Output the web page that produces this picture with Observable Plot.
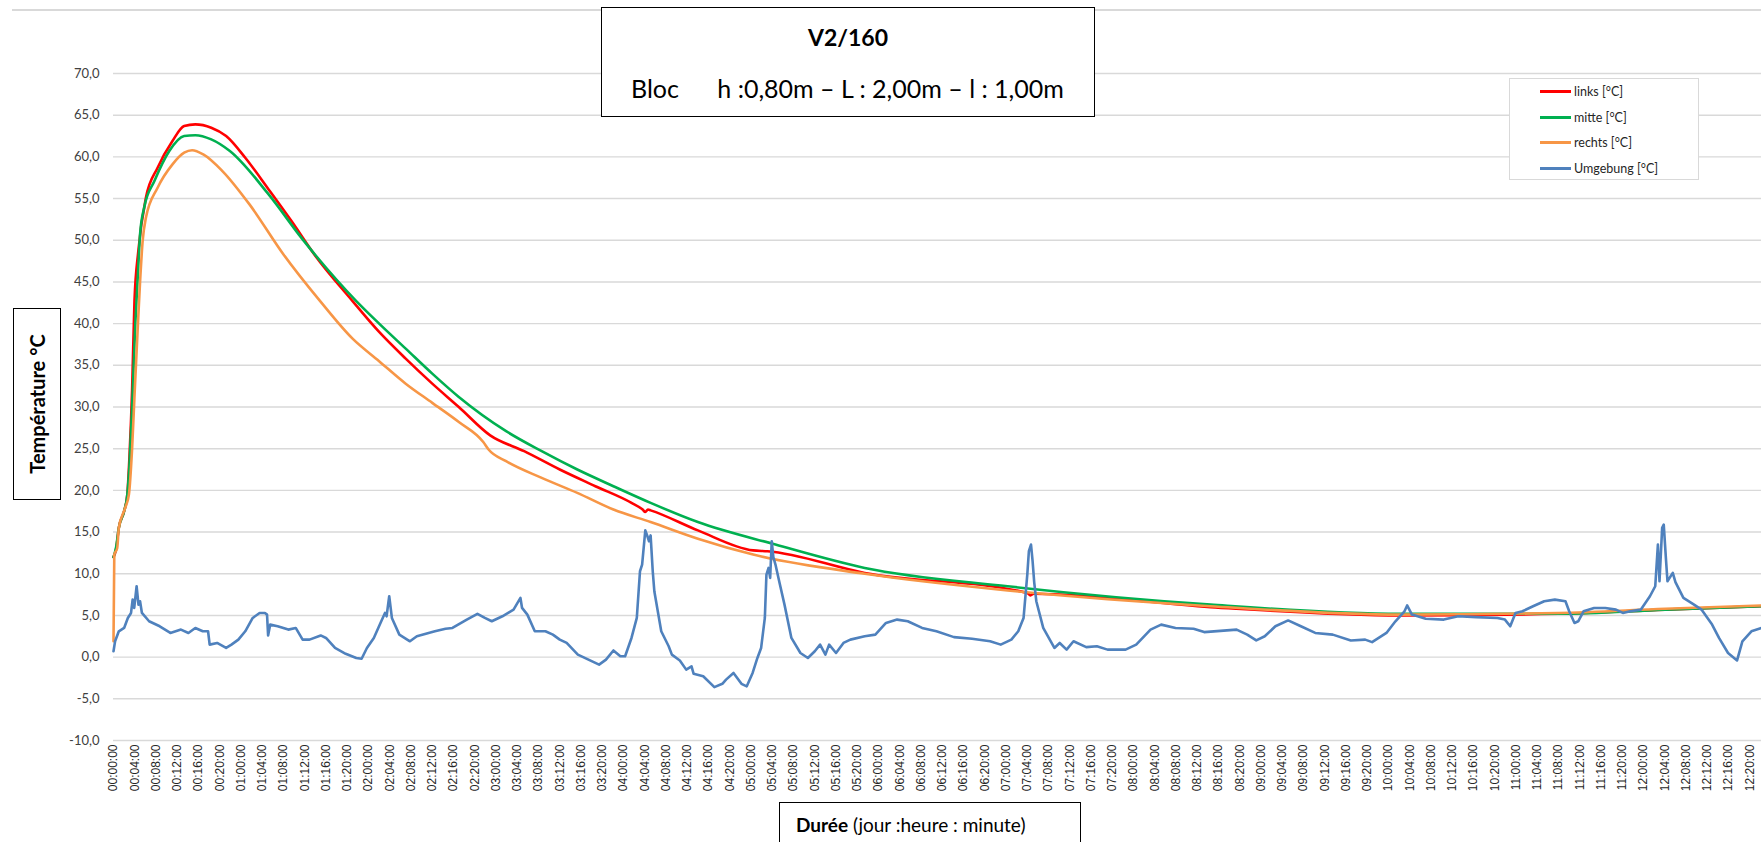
<!DOCTYPE html>
<html>
<head>
<meta charset="utf-8">
<script src="https://cdn.jsdelivr.net/npm/d3@7"></script>
<script src="https://cdn.jsdelivr.net/npm/@observablehq/plot@0.6"></script>
<style>
  html, body { margin: 0; padding: 0; background: #fff; overflow: hidden; }
  #wrap { position: relative; width: 1761px; height: 842px; overflow: hidden; font-family: Lato, "Open Sans", sans-serif; }
  #chart { position: absolute; left: 0; top: 0; }
  .box { position: absolute; border: 1.5px solid #000; background: #fff; box-sizing: border-box; }
  #topline { position: absolute; left: 12px; right: 0; top: 9px; height: 2px; background: #d9d9d9; }
  #title { left: 601px; top: 7px; width: 494px; height: 110px; }
  #title .t1 { position: absolute; left: 0; right: 0; top: 15px; text-align: center; font-weight: bold; font-size: 23px; color: #000; }
  #title .t2 { position: absolute; left: 29px; top: 65px; font-size: 25px; color: #000; white-space: pre; }
  #ylab { left: 13px; top: 308px; width: 48px; height: 192px; }
  #ylab span { position: absolute; left: 50%; top: 50%; transform: translate(-50%, -50%) rotate(-90deg); white-space: nowrap; font-weight: bold; font-size: 20px; color: #000; }
  #xlab { left: 779px; top: 802px; width: 302px; height: 60px; }
  #xlab span { position: absolute; left: 16px; top: 10px; font-size: 19px; color: #000; white-space: nowrap; }
  #legend { position: absolute; left: 1509px; top: 78px; width: 190px; height: 102px; border: 1px solid #d9d9d9; background: #fff; box-sizing: border-box; }
  .li { position: absolute; left: 30px; height: 14px; font-size: 12.5px; color: #262626; white-space: nowrap; }
  .li i { display: inline-block; width: 31px; height: 3px; vertical-align: middle; margin-right: 3px; position: relative; top: -1px; }
</style>
</head>
<body>
<div id="wrap">
  <div id="topline"></div>
  <div id="chart"></div>
  <div class="box" id="title"><div class="t1">V2/160</div><div class="t2">Bloc      h :0,80m – L : 2,00m – l : 1,00m</div></div>
  <div class="box" id="ylab"><span>Température °C</span></div>
  <div class="box" id="xlab"><span><b>Durée</b> (jour :heure : minute)</span></div>
  <div id="legend"></div>
</div>
<script>
// ---- data (x = elapsed hours, y = °C) ----
const seriesNames = ["links [°C]", "mitte [°C]", "rechts [°C]", "Umgebung [°C]"];
const seriesColors = ["#ff0000", "#00b050", "#f79646", "#4f81bd"];

const linksH = [0, 0.5, 1, 2, 2.6, 3.0, 3.5, 3.95, 4.67, 6.1, 8.3, 11.1, 13.3, 15.4, 18.4, 21.2, 24.8, 29.2, 33.5, 37.8, 45, 50, 55, 60, 65, 70.9, 77.3, 84, 90.7, 97.5, 99.6, 100.1, 100.6, 101.1, 110, 120.4, 123.1, 141.4, 172.0, 172.6, 173.2, 206.5, 242.3, 272, 292, 310.2];
const linksT = [12, 13, 15.5, 17.5, 19.5, 24, 32, 42.7, 48.7, 55.1, 58.7, 61.9, 63.7, 63.9, 63.5, 62.5, 59.9, 56.1, 52.3, 48.3, 42.7, 39.0, 35.8, 32.8, 30.0, 26.6, 24.7, 22.5, 20.5, 18.5, 17.7, 17.4, 17.7, 17.6, 15.2, 12.8, 12.7, 10.1, 7.7, 7.4, 7.6, 6.0, 5.0, 5.2, 5.7, 6.1];

const mitteH = [0, 0.5, 1, 2, 2.6, 3.0, 3.5, 4.1, 4.6, 5.0, 5.8, 7.7, 10.5, 13.3, 15.4, 18.4, 21.9, 29.2, 35.6, 45.7, 50, 55, 60, 65, 73.9, 80.6, 87.3, 94.1, 101.1, 110, 124.6, 141.4, 168.3, 206.5, 242.3, 272, 292.1, 310.2];
const mitteT = [12, 13.2, 15.5, 17.5, 19.5, 23, 29.9, 39.9, 46, 50.7, 54, 57.1, 60.7, 62.5, 62.6, 62.1, 60.7, 55.5, 50.1, 42.7, 40.0, 37.0, 34.0, 31.2, 27.1, 24.7, 22.5, 20.5, 18.5, 16.2, 13.5, 10.7, 8.5, 6.3, 5.2, 5.2, 5.7, 6.1];

const rechtsH = [0, 0.15, 0.7, 1.0, 2.2, 2.9, 3.5, 4.0, 4.6, 5.0, 5.5, 6.1, 8.3, 11.1, 13.3, 14.8, 16.9, 20.5, 25.6, 32, 38.9, 45, 50, 55, 60, 65, 69.6, 70.6, 73.9, 80.6, 87.3, 94.1, 101.1, 110, 120.4, 141.4, 168.3, 206.5, 242.3, 272, 292.1, 310.2];
const rechtsT = [1.9, 12.3, 13.1, 15.5, 17.9, 19.5, 25, 32, 40, 45, 50, 52.7, 56.3, 59.1, 60.5, 60.8, 60.3, 58.3, 54.3, 48.3, 42.7, 38.2, 35.5, 32.8, 30.5, 28.2, 25.8, 24.9, 23.5, 21.5, 19.7, 17.7, 16.2, 14.2, 12.3, 10.0, 8.0, 6.1, 5.1, 5.3, 5.8, 6.2];

const umgebungH = [0,0.3,1.0,2.0,2.7,3.3,3.6,3.9,4.35,4.7,5.0,5.35,6.7,8.7,10.7,12.7,14.1,15.4,16.8,17.8,18.1,19.5,21.2,22.2,23.5,24.8,26.2,27.5,28.5,28.9,29.1,29.5,30.9,32.9,34.3,35.6,36.9,39.0,40.0,41.7,43.7,45.7,46.7,47.7,49.0,50.4,51.1,51.4,51.9,52.4,53.8,55.8,57.1,60.5,62.5,63.8,66.5,68.5,69.9,71.2,73.2,75.3,76.6,76.9,77.9,79.3,81.3,82.7,84.0,85.3,87.4,89.4,91.4,92.7,94.1,95.4,96.3,97.5,98.5,99.1,99.5,100.1,100.5,100.8,101.1,101.5,101.8,103.1,104.5,105.1,106.6,107.8,108.8,109.2,111.0,113.1,114.6,115.3,116.7,117.4,118.2,119.2,120.3,121.2,121.9,122.6,122.9,123.3,123.6,123.9,124.2,124.6,125.3,126.3,127.6,129.3,130.7,132,133,134,134.7,136,137.4,138.7,141.4,143.4,145.4,147.5,149.5,152.2,154.9,158.2,161.6,165,167,169,170.3,171.3,172,172.3,172.7,173,173.3,173.7,175,177.1,178.1,179.4,180.7,183.1,185.1,187.1,190.5,192.5,195.2,197.2,199.9,203.3,205.3,211.4,213.4,215.1,216.7,218.7,221.1,223.5,226.2,229.5,232.9,235.6,236.9,239.6,241.3,243,243.5,244.4,247,250.4,253.1,256.5,260.5,261.9,262.9,263.9,265.2,267.2,269.3,271.3,273.3,274,275,275.7,276.7,278.7,280.8,282.8,284.1,285.5,287.5,289.2,290.2,290.7,291,291.5,291.8,292.2,292.5,293.5,294,295.5,297.5,298.9,300.9,302.2,303.9,305.6,306.6,308.3,310.2];
const umgebungT = [0.7,1.9,3.1,3.5,4.7,5.3,6.9,5.9,8.5,6.3,6.7,5.3,4.3,3.7,2.9,3.3,2.9,3.5,3.1,3.1,1.5,1.7,1.1,1.5,2.1,3.1,4.7,5.3,5.3,5.1,2.6,3.9,3.7,3.3,3.5,2.1,2.1,2.6,2.3,1.1,0.4,-0.1,-0.2,1.1,2.3,4.3,5.3,4.9,7.3,4.7,2.7,1.9,2.5,3.1,3.4,3.5,4.5,5.2,4.7,4.3,4.9,5.7,7.1,5.9,5.1,3.1,3.1,2.7,2.1,1.7,0.3,-0.3,-0.9,-0.3,0.8,0.1,0.1,2.3,4.7,10.3,11.1,15.2,14.5,13.9,14.6,10.3,7.9,3.1,1.3,0.3,-0.4,-1.5,-1.1,-2.0,-2.3,-3.6,-3.2,-2.7,-1.9,-2.5,-3.2,-3.5,-1.9,-0.1,1.1,4.7,9.9,10.7,9.5,13.9,12,11.1,9.1,6.3,2.3,0.5,-0.1,0.7,1.5,0.3,1.5,0.5,1.7,2.1,2.5,2.7,4.1,4.5,4.3,3.5,3.1,2.4,2.2,1.9,1.5,2.1,3.1,4.7,9.9,12.7,13.5,11.5,9,6.7,3.5,1.1,1.7,0.9,1.9,1.2,1.3,0.9,0.9,1.5,3.3,3.9,3.5,3.4,3.0,3.3,2.7,2.0,2.5,3.7,4.4,3.7,2.9,2.7,2.0,2.1,1.8,2.9,4.3,5.5,6.2,5.1,4.6,4.5,4.9,4.8,4.7,4.5,3.7,5.3,5.5,6.1,6.7,6.9,6.7,5.5,4.1,4.3,5.5,5.9,5.9,5.7,5.3,5.5,5.7,7.3,8.5,13.5,9.1,15.5,15.9,11.9,9.1,10.1,9,7.1,6.3,5.7,3.9,2.3,0.5,-0.4,1.9,3.1,3.5];

const xDomain = [0, 310.2];
const xTicks = d3.range(0, 309, 4);          // every 4 hours: 00:00:00 ... 12:20:00
const yDomain = [-10, 70];
const yTicks = d3.range(-10, 71, 5);

// ---- build ----
const pad = n => String(n).padStart(2, "0");
const fmtX = h => `${pad(Math.floor(h / 24))}:${pad(h % 24)}:00`;
const fmtY = v => v.toFixed(1).replace(".", ",");
const toRows = (H, T) => H.map((h, i) => ({h, t: T[i]}));
const series = [
  toRows(linksH, linksT),
  toRows(mitteH, mitteT),
  toRows(rechtsH, rechtsT),
  toRows(umgebungH, umgebungT)
];

const chart = Plot.plot({
  width: 1761,
  height: 842,
  marginLeft: 113,
  marginRight: 0,
  marginTop: 73,
  marginBottom: 102,
  style: {background: "transparent", overflow: "visible"},
  x: {domain: xDomain},
  y: {domain: yDomain},
  marks: [
    Plot.gridY(yTicks, {stroke: "#d9d9d9", strokeOpacity: 1, strokeWidth: 1.4}),
    Plot.axisY(yTicks, {tickFormat: fmtY, tickSize: 0, tickPadding: 14, label: null,
      fontFamily: "Lato, sans-serif", fontSize: 13, fill: "#404040"}),
    Plot.axisX(xTicks, {tickFormat: fmtX, tickRotate: -90, tickSize: 0, tickPadding: 4, label: null,
      fontFamily: "Liberation Sans, Arial, sans-serif", fontSize: 12, fill: "#262626"}),
    ...series.map((rows, i) => Plot.line(rows, {x: "h", y: "t", stroke: seriesColors[i], strokeWidth: 2.6,
      strokeLinejoin: "round", curve: i < 3 ? "monotone-x" : "linear"}))
  ]
});
document.getElementById("chart").appendChild(chart);

// legend
const leg = document.getElementById("legend");
seriesNames.forEach((name, i) => {
  const d = document.createElement("div");
  d.className = "li";
  d.style.top = (5 + i * 25.5) + "px";
  d.innerHTML = `<i style="background:${seriesColors[i]}"></i>${name}`;
  leg.appendChild(d);
});
</script>
</body>
</html>
